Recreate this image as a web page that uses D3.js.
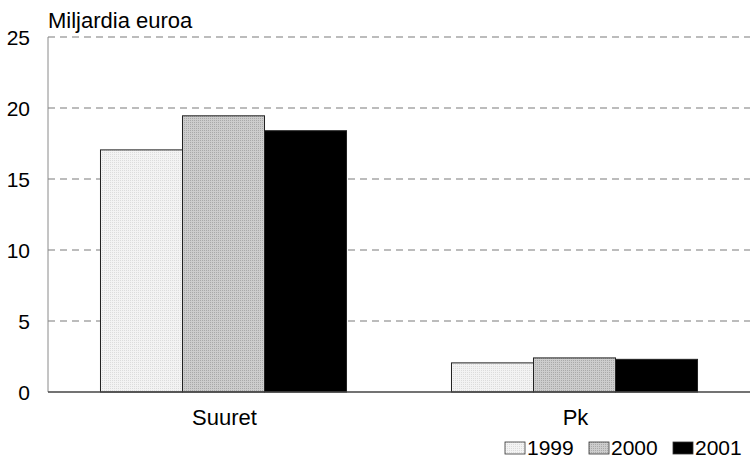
<!DOCTYPE html>
<html>
<head>
<meta charset="utf-8">
<script src="https://cdn.jsdelivr.net/npm/d3@7"></script>
<style>
  body { margin: 0; background: #fff; }
  text { font-family: "Liberation Sans", Arial, sans-serif; fill: #000; }
</style>
</head>
<body>
<div id="chart"></div>
<script>
var categories = ["Suuret", "Pk"];
var years = ["1999", "2000", "2001"];
var values = {
  "1999": [17.05, 2.05],
  "2000": [19.45, 2.4],
  "2001": [18.4, 2.3]
};
var yTicks = [0, 5, 10, 15, 20, 25];
var axisTitle = "Miljardia euroa";

var width = 750, height = 461;
var margin = { top: 37, right: 0, bottom: 69, left: 48 };

var svg = d3.select("#chart")
    .append("svg")
    .attr("width", width)
    .attr("height", height);

// dotted greys like the print
var defs = svg.append("defs");
function dots(id, base, dot) {
  var p = defs.append("pattern")
      .attr("id", id)
      .attr("width", 2).attr("height", 2)
      .attr("patternUnits", "userSpaceOnUse");
  p.append("rect").attr("width", 2).attr("height", 2).attr("fill", base);
  p.append("rect").attr("width", 1).attr("height", 1).attr("fill", dot);
}
dots("p1999", "#f3f3f3", "#dcdcdc");
dots("p2000", "#cdcdcd", "#a9a9a9");

var fills = { "1999": "url(#p1999)", "2000": "url(#p2000)", "2001": "#000" };

var x = d3.scaleBand()
    .domain(categories)
    .range([margin.left, width - margin.right]);

var xSub = d3.scaleBand()
    .domain(years)
    .range([0, x.bandwidth()])
    .paddingInner(0)
    .paddingOuter(0.64);

var y = d3.scaleLinear()
    .domain([0, 25])
    .range([height - margin.bottom, margin.top]);

// gridlines
svg.append("g")
  .selectAll("line")
  .data(yTicks.filter(function(d) { return d > 0; }))
  .enter()
  .append("line")
    .attr("x1", margin.left)
    .attr("x2", width - margin.right)
    .attr("y1", function(d) { return y(d); })
    .attr("y2", function(d) { return y(d); })
    .attr("stroke", "#7a7a7a")
    .attr("stroke-width", 1.2)
    .attr("stroke-dasharray", "7,5");

// left axis line
svg.append("line")
    .attr("x1", margin.left).attr("x2", margin.left)
    .attr("y1", y(25)).attr("y2", y(0))
    .attr("stroke", "#8a8a8a")
    .attr("stroke-width", 1);

// tick labels
svg.append("g")
  .selectAll("text")
  .data(yTicks)
  .enter()
  .append("text")
    .attr("x", 30)
    .attr("y", function(d) { return y(d) + 8; })
    .attr("text-anchor", "end")
    .style("font-size", "21px")
    .text(function(d) { return d; });

// bars
var groups = svg.append("g")
  .selectAll("g")
  .data(categories)
  .enter()
  .append("g")
    .attr("transform", function(d) { return "translate(" + x(d) + ",0)"; });

groups.selectAll("rect")
  .data(function(d, i) { return years.map(function(yr) { return { year: yr, value: values[yr][i] }; }); })
  .enter()
  .append("rect")
    .attr("x", function(d) { return xSub(d.year); })
    .attr("y", function(d) { return y(d.value); })
    .attr("width", xSub.bandwidth())
    .attr("height", function(d) { return y(0) - y(d.value); })
    .attr("fill", function(d) { return fills[d.year]; })
    .attr("stroke", "#222")
    .attr("stroke-width", 1);

// bottom axis line
svg.append("line")
    .attr("x1", margin.left).attr("x2", width)
    .attr("y1", y(0)).attr("y2", y(0))
    .attr("stroke", "#444")
    .attr("stroke-width", 1.5);

// category labels
svg.append("g")
  .selectAll("text")
  .data(categories)
  .enter()
  .append("text")
    .attr("x", function(d) { return x(d) + x.bandwidth() / 2 + 1; })
    .attr("y", 425)
    .attr("text-anchor", "middle")
    .style("font-size", "22px")
    .text(function(d) { return d; });

// title
svg.append("text")
    .attr("x", 48)
    .attr("y", 28)
    .style("font-size", "22px")
    .text(axisTitle);

// legend
var legendX = [505, 589, 673];
var legend = svg.append("g")
  .selectAll("g")
  .data(years)
  .enter()
  .append("g")
    .attr("transform", function(d, i) { return "translate(" + legendX[i] + ",442)"; });

legend.append("rect")
    .attr("width", 20)
    .attr("height", 12)
    .attr("fill", function(d) { return fills[d]; })
    .attr("stroke", "#333")
    .attr("stroke-width", 0.8);

legend.append("text")
    .attr("x", 22)
    .attr("y", 13)
    .style("font-size", "21px")
    .text(function(d) { return d; });
</script>
</body>
</html>
